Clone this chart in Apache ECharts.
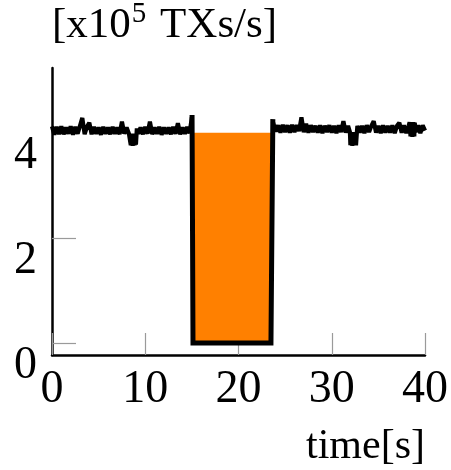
<!DOCTYPE html>
<html>
<head>
<meta charset="utf-8">
<script src="https://cdn.jsdelivr.net/npm/echarts@6/dist/echarts.min.js"></script>
<style>
  html, body { margin: 0; padding: 0; background: #fff; }
  #chart { width: 451px; height: 470px; }
</style>
</head>
<body>
<div id="chart"></div>
<script>
// Throughput over time [x10^5 TXs/s]; the service is down between ~15 s and ~23.6 s.
const xTicks = [0, 10, 20, 30, 40];
const yTicks = [0, 2, 4];

// Measured throughput before the outage: [time s, value]
const traceBefore = [
  [0, 4.12], [0.25, 3.96], [0.5, 4.11], [0.75, 3.97], [1.0, 4.12], [1.25, 3.97],
  [1.5, 4.10], [1.75, 3.98], [2.0, 4.12], [2.25, 3.96], [2.5, 4.11], [2.75, 3.98],
  [3.0, 4.13], [3.25, 4.28], [3.5, 3.97], [3.75, 4.11], [4.0, 4.19], [4.25, 3.97],
  [4.5, 4.11], [4.75, 3.98], [5.0, 4.10], [5.25, 3.96], [5.5, 4.11], [5.75, 3.98],
  [6.0, 4.10], [6.25, 3.97], [6.5, 4.11], [6.75, 3.98], [7.0, 4.10], [7.25, 3.97],
  [7.5, 4.21], [7.75, 3.98], [8.0, 4.10], [8.25, 3.98],
  [8.4, 3.98], [8.45, 3.76], [8.55, 3.98], [8.65, 3.75], [8.75, 3.98], [8.85, 3.76],
  [8.95, 3.98], [9.0, 3.77], [9.1, 4.08],
  [9.25, 3.98], [9.5, 4.10], [9.75, 3.97], [10.0, 4.11], [10.25, 3.98], [10.5, 4.21],
  [10.75, 3.97], [11.0, 4.10], [11.25, 3.98], [11.5, 4.11], [11.75, 3.96], [12.0, 4.10],
  [12.25, 3.98], [12.5, 4.10], [12.75, 3.97], [13.0, 4.11], [13.25, 3.98], [13.5, 4.18],
  [13.75, 3.97], [14.0, 4.10], [14.25, 3.98], [14.5, 4.11], [14.75, 3.99], [15.0, 4.29]
];

// Measured throughput after recovery: [time s, value]
const traceAfter = [
  [23.68, 4.21], [24.0, 4.02], [24.25, 4.14], [24.5, 4.00], [24.75, 4.15], [25.0, 4.01],
  [25.25, 4.14], [25.5, 4.00], [25.75, 4.15], [26.0, 4.01], [26.25, 4.14], [26.5, 4.03],
  [26.75, 4.29], [27.0, 4.01], [27.25, 4.17], [27.5, 4.00], [27.75, 4.14], [28.0, 4.01],
  [28.25, 4.13], [28.5, 4.00], [28.75, 4.14], [29.0, 3.99], [29.25, 4.13], [29.5, 4.01],
  [29.75, 4.14], [30.0, 4.00], [30.25, 4.13], [30.5, 3.99], [30.75, 4.14], [31.0, 4.01],
  [31.25, 4.22], [31.5, 4.00], [31.75, 4.13],
  [31.95, 4.01], [32.0, 3.76], [32.1, 4.01], [32.2, 3.75], [32.3, 4.01], [32.4, 3.76],
  [32.5, 4.01], [32.6, 3.76], [32.7, 4.02],
  [32.75, 4.13], [33.0, 4.00], [33.25, 4.13], [33.5, 3.99], [33.75, 4.14], [34.0, 4.01],
  [34.25, 4.13], [34.5, 4.22], [34.75, 4.00], [35.0, 4.13], [35.25, 3.99], [35.5, 4.14],
  [35.75, 4.00], [36.0, 4.13], [36.25, 4.00], [36.5, 4.14], [36.75, 3.99], [37.0, 4.13],
  [37.25, 4.19], [37.5, 4.00], [37.75, 4.14], [38.0, 3.99], [38.25, 4.13],
  [38.35, 4.20], [38.45, 3.93], [38.55, 4.20], [38.65, 3.92], [38.75, 4.20], [38.85, 3.93],
  [38.9, 4.19],
  [39.0, 4.01], [39.25, 4.14], [39.5, 3.99], [39.75, 4.14], [40.0, 4.04]
];

// Outage: drop to zero and recovery edges
const outageEdge = [[15.02, 4.29], [15.12, 0], [23.48, 0], [23.68, 4.21]];
// Lost throughput during the outage
const outageLoss = [[15.1, 4.0], [23.6, 4.0]];

const FONT = "'Liberation Serif', 'DejaVu Serif', serif";

const chart = echarts.init(document.getElementById('chart'), null, { renderer: 'canvas' });
chart.setOption({
  animation: false,
  backgroundColor: '#ffffff',
  grid: { left: 52, right: 23, top: 64, bottom: 115 },
  title: {
    text: 'time[s]',
    left: 306,
    top: 426,
    padding: 0,
    textStyle: { fontFamily: FONT, fontSize: 42, fontWeight: 'normal', color: '#000' }
  },
  xAxis: {
    type: 'value',
    min: 0,
    max: 40,
    interval: 10,
    splitLine: { show: false },
    axisLine: { onZero: false, lineStyle: { color: '#000', width: 2.5 } },
    axisTick: { inside: true, length: 22, customValues: xTicks, lineStyle: { color: '#9a9a9a', width: 1.2 } },
    axisLabel: {
      customValues: xTicks,
      margin: 12,
      fontFamily: FONT,
      fontSize: 46,
      color: '#000'
    }
  },
  yAxis: {
    type: 'value',
    min: -0.23,
    max: 5.23,
    name: '[x10{sup|5} TXs/s]',
    nameLocation: 'end',
    nameGap: 17,
    nameTextStyle: {
      fontFamily: FONT,
      fontSize: 43,
      color: '#000',
      align: 'left',
      verticalAlign: 'bottom',
      rich: {
        sup: { fontFamily: FONT, fontSize: 29, color: '#000', verticalAlign: 'top', padding: [0, 3, 22, 1] }
      }
    },
    splitLine: { show: false },
    axisLine: { onZero: false, lineStyle: { color: '#000', width: 2.5 } },
    axisTick: { inside: true, length: 24, customValues: yTicks, lineStyle: { color: '#9a9a9a', width: 1.2 } },
    axisLabel: {
      customValues: yTicks,
      margin: 15,
      verticalAlign: 'top',
      fontFamily: FONT,
      fontSize: 46,
      color: '#000'
    }
  },
  series: [
    {
      type: 'line',
      data: outageLoss,
      symbol: 'none',
      lineStyle: { width: 0 },
      areaStyle: { color: '#ff8000', opacity: 1 },
      z: 1
    },
    {
      type: 'line',
      data: traceBefore,
      symbol: 'none',
      lineStyle: { color: '#000', width: 4.2 },
      z: 3
    },
    {
      type: 'line',
      data: traceAfter,
      symbol: 'none',
      lineStyle: { color: '#000', width: 4.2 },
      z: 3
    },
    {
      type: 'line',
      data: outageEdge,
      symbol: 'none',
      lineStyle: { color: '#000', width: 5, join: 'miter', cap: 'square' },
      z: 4
    }
  ]
});
</script>
</body>
</html>
